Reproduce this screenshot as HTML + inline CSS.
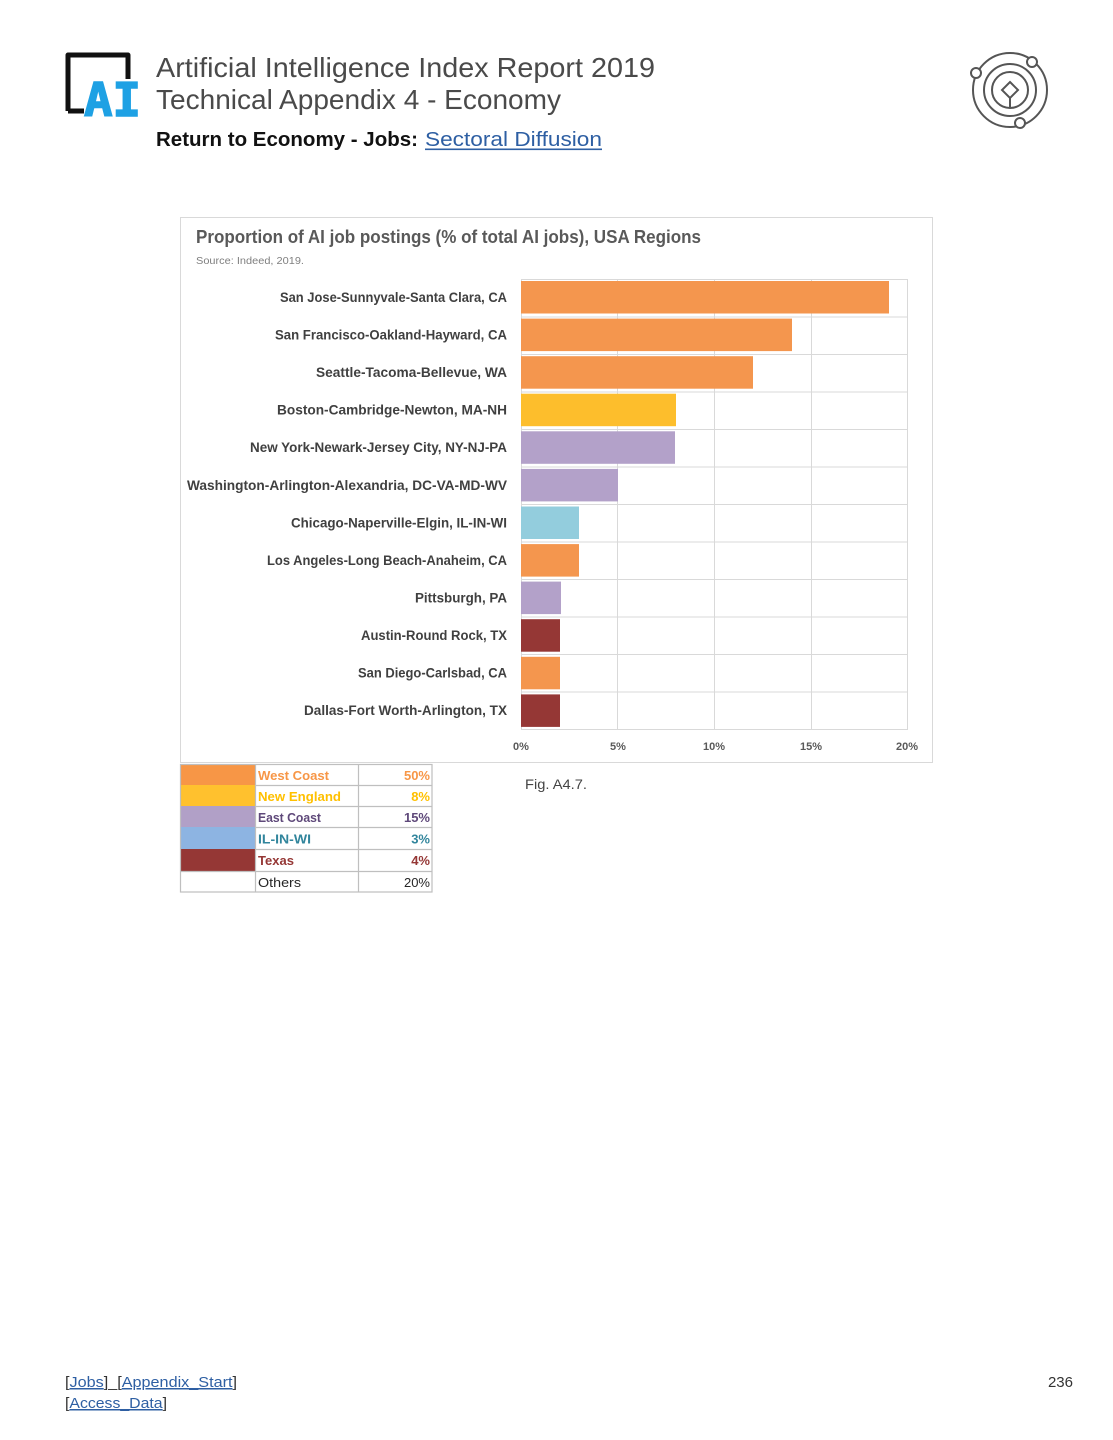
<!DOCTYPE html>
<html><head><meta charset="utf-8"><style>
html,body{margin:0;padding:0;background:#fff;}
svg{display:block;}
</style></head><body>
<svg width="1113" height="1440" viewBox="0 0 1113 1440" xmlns="http://www.w3.org/2000/svg" font-family="Liberation Sans, sans-serif">
<rect width="1113" height="1440" fill="#fff"/>
<!-- Logo -->
<path d="M68 111 L68 55 L128 55 L128 79" fill="none" stroke="#111" stroke-width="5" stroke-linejoin="round"/>
<path d="M68 111 L84 111" fill="none" stroke="#111" stroke-width="5"/>
<text x="84" y="116" font-family="DejaVu Sans Mono, monospace" font-weight="bold" font-size="46" fill="#1ea1e4" stroke="#1ea1e4" stroke-width="1.5" textLength="57" lengthAdjust="spacingAndGlyphs">AI</text>
<!-- Header -->
<text x="156" y="77" font-size="28" fill="#4a4a4a" textLength="499" lengthAdjust="spacingAndGlyphs">Artificial Intelligence Index Report 2019</text>
<text x="156" y="109" font-size="28" fill="#4a4a4a" textLength="405" lengthAdjust="spacingAndGlyphs">Technical Appendix 4 - Economy</text>
<text x="156" y="146" font-size="20" font-weight="bold" fill="#111" textLength="262" lengthAdjust="spacingAndGlyphs">Return to Economy - Jobs:</text>
<text x="425" y="146" font-size="20" fill="#2e5fa3" textLength="177" lengthAdjust="spacingAndGlyphs">Sectoral Diffusion</text>
<rect x="425" y="148.5" width="177" height="1.6" fill="#2e5fa3"/>
<!-- Right icon -->
<g fill="none" stroke="#555" stroke-width="2">
<circle cx="1010" cy="90" r="37"/>
<circle cx="1010" cy="90" r="26"/>
<circle cx="1010" cy="90" r="18"/>
<path d="M1010 82 L1018 90 L1010 98 L1002 90 Z"/>
<path d="M1010 98 L1010 108"/>
</g>
<g fill="#fff" stroke="#555" stroke-width="2">
<circle cx="1032" cy="62" r="5"/>
<circle cx="976" cy="73" r="5"/>
<circle cx="1020" cy="123" r="5"/>
</g>
<!-- Chart frame -->
<rect x="180.5" y="217.5" width="752" height="545" fill="#fff" stroke="#d9d9d9" stroke-width="1"/>
<text x="196" y="243" font-size="18" font-weight="bold" fill="#595959" textLength="505" lengthAdjust="spacingAndGlyphs">Proportion of AI job postings (% of total AI jobs), USA Regions</text>
<text x="196" y="264" font-size="10" fill="#7f7f7f" textLength="108" lengthAdjust="spacingAndGlyphs">Source: Indeed, 2019.</text>
<!-- Gridlines -->
<g stroke="#d9d9d9" stroke-width="1">
<line x1="521" y1="279.5" x2="908" y2="279.5"/>
<line x1="521" y1="317" x2="908" y2="317"/>
<line x1="521" y1="354.5" x2="908" y2="354.5"/>
<line x1="521" y1="392" x2="908" y2="392"/>
<line x1="521" y1="429.5" x2="908" y2="429.5"/>
<line x1="521" y1="467" x2="908" y2="467"/>
<line x1="521" y1="504.5" x2="908" y2="504.5"/>
<line x1="521" y1="542" x2="908" y2="542"/>
<line x1="521" y1="579.5" x2="908" y2="579.5"/>
<line x1="521" y1="617" x2="908" y2="617"/>
<line x1="521" y1="654.5" x2="908" y2="654.5"/>
<line x1="521" y1="692" x2="908" y2="692"/>
<line x1="521" y1="729.5" x2="908" y2="729.5"/>
<line x1="521.5" y1="279" x2="521.5" y2="730"/>
<line x1="617.5" y1="279" x2="617.5" y2="730"/>
<line x1="714.5" y1="279" x2="714.5" y2="730"/>
<line x1="811.5" y1="279" x2="811.5" y2="730"/>
<line x1="907.5" y1="279" x2="907.5" y2="730"/>
</g>
<!-- Bars -->
<rect x="521" y="281" width="368" height="32.5" fill="#f4964e"/>
<rect x="521" y="318.6" width="271" height="32.5" fill="#f4964e"/>
<rect x="521" y="356.2" width="232" height="32.5" fill="#f4964e"/>
<rect x="521" y="393.7" width="155" height="32.5" fill="#fdbe2c"/>
<rect x="521" y="431.3" width="154" height="32.5" fill="#b3a1c9"/>
<rect x="521" y="468.9" width="97" height="32.5" fill="#b3a1c9"/>
<rect x="521" y="506.5" width="58" height="32.5" fill="#93cddd"/>
<rect x="521" y="544.1" width="58" height="32.5" fill="#f4964e"/>
<rect x="521" y="581.6" width="40" height="32.5" fill="#b3a1c9"/>
<rect x="521" y="619.2" width="39" height="32.5" fill="#953735"/>
<rect x="521" y="656.8" width="39" height="32.5" fill="#f4964e"/>
<rect x="521" y="694.4" width="39" height="32.5" fill="#953735"/>
<!-- Labels -->
<g font-size="13.5" font-weight="bold" fill="#404040" text-anchor="end">
<text x="507" y="302" textLength="227" lengthAdjust="spacingAndGlyphs">San Jose-Sunnyvale-Santa Clara, CA</text>
<text x="507" y="339.5" textLength="232" lengthAdjust="spacingAndGlyphs">San Francisco-Oakland-Hayward, CA</text>
<text x="507" y="377" textLength="191" lengthAdjust="spacingAndGlyphs">Seattle-Tacoma-Bellevue, WA</text>
<text x="507" y="414.5" textLength="230" lengthAdjust="spacingAndGlyphs">Boston-Cambridge-Newton, MA-NH</text>
<text x="507" y="452" textLength="257" lengthAdjust="spacingAndGlyphs">New York-Newark-Jersey City, NY-NJ-PA</text>
<text x="507" y="490" textLength="320" lengthAdjust="spacingAndGlyphs">Washington-Arlington-Alexandria, DC-VA-MD-WV</text>
<text x="507" y="527.5" textLength="216" lengthAdjust="spacingAndGlyphs">Chicago-Naperville-Elgin, IL-IN-WI</text>
<text x="507" y="565" textLength="240" lengthAdjust="spacingAndGlyphs">Los Angeles-Long Beach-Anaheim, CA</text>
<text x="507" y="602.5" textLength="92" lengthAdjust="spacingAndGlyphs">Pittsburgh, PA</text>
<text x="507" y="640" textLength="146" lengthAdjust="spacingAndGlyphs">Austin-Round Rock, TX</text>
<text x="507" y="677.5" textLength="149" lengthAdjust="spacingAndGlyphs">San Diego-Carlsbad, CA</text>
<text x="507" y="715" textLength="203" lengthAdjust="spacingAndGlyphs">Dallas-Fort Worth-Arlington, TX</text>
</g>
<!-- Axis ticks -->
<g font-size="11" font-weight="bold" fill="#595959" text-anchor="middle">
<text x="521" y="750">0%</text>
<text x="618" y="750">5%</text>
<text x="714" y="750">10%</text>
<text x="811" y="750">15%</text>
<text x="907" y="750">20%</text>
</g>
<!-- Legend table -->
<rect x="180" y="764" width="75" height="21" fill="#f79646"/>
<rect x="180" y="785" width="75" height="21" fill="#ffc12e"/>
<rect x="180" y="806" width="75" height="21" fill="#b1a0c7"/>
<rect x="180" y="827" width="75" height="22" fill="#8db4e2"/>
<rect x="180" y="849" width="75" height="22" fill="#953735"/>
<g stroke="#bfbfbf" stroke-width="1.2" fill="none">
<rect x="180.5" y="764.5" width="251.5" height="127.5"/>
<line x1="255.5" y1="764" x2="255.5" y2="892"/>
<line x1="358.5" y1="764" x2="358.5" y2="892"/>
<line x1="255" y1="785.5" x2="432" y2="785.5"/>
<line x1="255" y1="806.5" x2="432" y2="806.5"/>
<line x1="255" y1="827.5" x2="432" y2="827.5"/>
<line x1="255" y1="849.5" x2="432" y2="849.5"/>
<line x1="180" y1="871.5" x2="432" y2="871.5"/>
</g>
<g font-size="13" font-weight="bold">
<text x="258" y="780" fill="#f79646" textLength="71" lengthAdjust="spacingAndGlyphs">West Coast</text>
<text x="258" y="801" fill="#ffc000" textLength="83" lengthAdjust="spacingAndGlyphs">New England</text>
<text x="258" y="822" fill="#5f497a" textLength="63" lengthAdjust="spacingAndGlyphs">East Coast</text>
<text x="258" y="843.5" fill="#31859c" textLength="53" lengthAdjust="spacingAndGlyphs">IL-IN-WI</text>
<text x="258" y="865" fill="#953735" textLength="36" lengthAdjust="spacingAndGlyphs">Texas</text>
<text x="258" y="887" fill="#262626" font-weight="normal" textLength="43" lengthAdjust="spacingAndGlyphs">Others</text>
<g text-anchor="end">
<text x="430" y="780" fill="#f79646">50%</text>
<text x="430" y="801" fill="#ffc000">8%</text>
<text x="430" y="822" fill="#5f497a">15%</text>
<text x="430" y="843.5" fill="#31859c">3%</text>
<text x="430" y="865" fill="#953735">4%</text>
<text x="430" y="887" fill="#262626" font-weight="normal">20%</text>
</g>
</g>
<text x="525" y="789" font-size="14" fill="#444" textLength="62" lengthAdjust="spacingAndGlyphs">Fig. A4.7.</text>
<!-- Footer -->
<g font-size="15" fill="#333">
<text x="65" y="1387" textLength="172" lengthAdjust="spacingAndGlyphs">[<tspan fill="#2e5fa3" text-decoration="underline">Jobs</tspan>]_[<tspan fill="#2e5fa3" text-decoration="underline">Appendix_Start</tspan>]</text>
<text x="65" y="1408" textLength="102" lengthAdjust="spacingAndGlyphs">[<tspan fill="#2e5fa3" text-decoration="underline">Access_Data</tspan>]</text>
<text x="1073" y="1387" text-anchor="end">236</text>
</g>
</svg>
</body></html>
